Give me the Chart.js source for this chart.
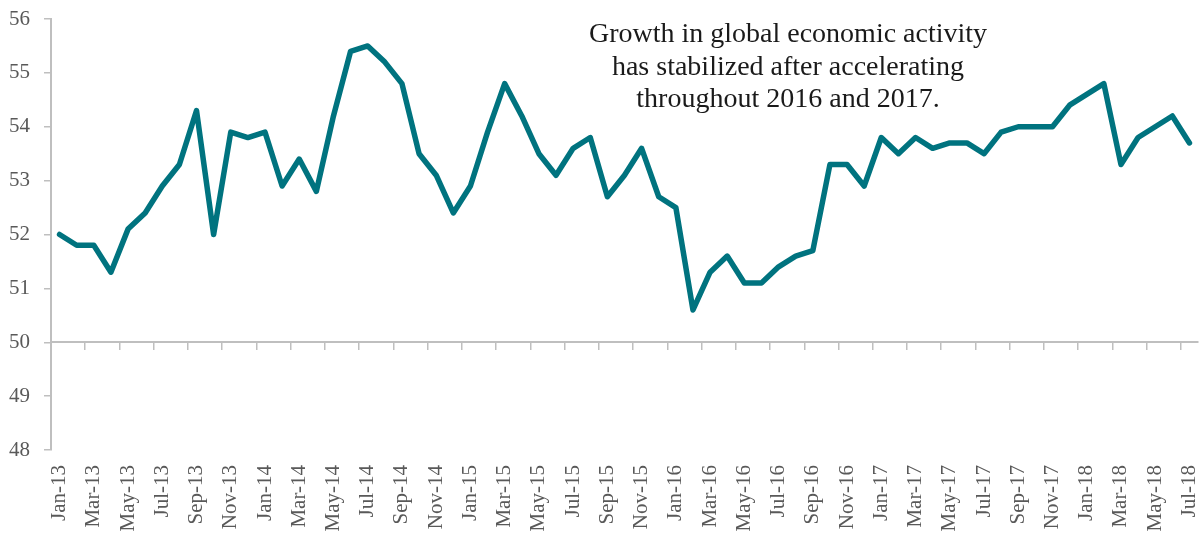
<!DOCTYPE html>
<html>
<head>
<meta charset="utf-8">
<script src="https://cdn.jsdelivr.net/npm/chart.js@4/dist/chart.umd.min.js"></script>
<style>
  html, body { margin: 0; padding: 0; background: #ffffff; }
  #wrap { width: 1201px; height: 536px; position: relative; }
</style>
</head>
<body>
<div id="wrap"><canvas id="c"></canvas></div>
<script>
// ---- data ----
const months = [
  'Jan-13','Feb-13','Mar-13','Apr-13','May-13','Jun-13','Jul-13','Aug-13','Sep-13','Oct-13','Nov-13','Dec-13',
  'Jan-14','Feb-14','Mar-14','Apr-14','May-14','Jun-14','Jul-14','Aug-14','Sep-14','Oct-14','Nov-14','Dec-14',
  'Jan-15','Feb-15','Mar-15','Apr-15','May-15','Jun-15','Jul-15','Aug-15','Sep-15','Oct-15','Nov-15','Dec-15',
  'Jan-16','Feb-16','Mar-16','Apr-16','May-16','Jun-16','Jul-16','Aug-16','Sep-16','Oct-16','Nov-16','Dec-16',
  'Jan-17','Feb-17','Mar-17','Apr-17','May-17','Jun-17','Jul-17','Aug-17','Sep-17','Oct-17','Nov-17','Dec-17',
  'Jan-18','Feb-18','Mar-18','Apr-18','May-18','Jun-18','Jul-18'
];
const activity = [
  52.0, 51.8, 51.8, 51.3, 52.1, 52.4, 52.9, 53.3, 54.3, 52.0, 53.9, 53.8,
  53.9, 52.9, 53.4, 52.8, 54.2, 55.4, 55.5, 55.2, 54.8, 53.5, 53.1, 52.4,
  52.9, 53.9, 54.8, 54.2, 53.5, 53.1, 53.6, 53.8, 52.7, 53.1, 53.6, 52.7,
  52.5, 50.6, 51.3, 51.6, 51.1, 51.1, 51.4, 51.6, 51.7, 53.3, 53.3, 52.9,
  53.8, 53.5, 53.8, 53.6, 53.7, 53.7, 53.5, 53.9, 54.0, 54.0, 54.0, 54.4,
  54.6, 54.8, 53.3, 53.8, 54.0, 54.2, 53.7
];
const yMin = 48;
const yMax = 56;
const yStep = 1;
const baselineValue = 50;
const annotationLines = [
  'Growth in global economic activity',
  'has stabilized after accelerating',
  'throughout 2016 and 2017.'
];

// ---- styles ----
const AXIS_GREY = '#bfbfbf';
const LABEL_GREY = '#595959';
const LINE_TEAL = '#00737f';
const SERIF = '"Liberation Serif", "DejaVu Serif", serif';

const annotationPlugin = {
  id: 'annotationText',
  afterDatasetsDraw(chart) {
    const ctx = chart.ctx;
    ctx.save();
    ctx.font = '28px ' + SERIF;
    ctx.fillStyle = '#1a1a1a';
    ctx.textAlign = 'center';
    ctx.textBaseline = 'alphabetic';
    const cx = 788;
    annotationLines.forEach((t, i) => ctx.fillText(t, cx, 42 + i * 32.5));
    ctx.restore();
  }
};

new Chart(document.getElementById('c'), {
  type: 'line',
  data: {
    labels: months,
    datasets: [{
      data: activity,
      borderColor: LINE_TEAL,
      borderWidth: 5.5,
      pointRadius: 0,
      pointHoverRadius: 0,
      tension: 0,
      fill: false,
      borderJoinStyle: 'round',
      borderCapStyle: 'round'
    }]
  },
  options: {
    responsive: true,
    maintainAspectRatio: false,
    animation: false,
    layout: { padding: { top: 19, right: 3, left: 0, bottom: 0 } },
    plugins: {
      legend: { display: false },
      tooltip: { enabled: false },
      title: { display: false }
    },
    scales: {
      x: {
        type: 'category',
        position: 'bottom',
        offset: true,
        grid: { display: false, drawTicks: false },
        border: { display: false },
        ticks: {
          autoSkip: false,
          minRotation: 90,
          maxRotation: 90,
          padding: 15,
          color: LABEL_GREY,
          font: { family: SERIF, size: 21 },
          callback: function(value, index) {
            return index % 2 === 0 ? this.getLabelForValue(value) : '';
          }
        },
        afterFit: (scale) => {
          scale.height = 86;
          scale.paddingLeft = 0;
          scale.paddingRight = 0;
        }
      },
      x2: {
        type: 'category',
        axis: 'x',
        position: { y: baselineValue },
        offset: true,
        grid: {
          display: true,
          drawOnChartArea: false,
          drawTicks: true,
          tickLength: 7,
          offset: true,
          lineWidth: 1.5,
          color: (c) => (c.index % 2 === 0 ? AXIS_GREY : 'rgba(0,0,0,0)'),
          tickColor: (c) => (c.index % 2 === 0 ? AXIS_GREY : 'rgba(0,0,0,0)')
        },
        border: { display: true, color: AXIS_GREY, width: 2 },
        ticks: { display: false, autoSkip: false },
        afterFit: (scale) => {
          scale.paddingLeft = 0;
          scale.paddingRight = 0;
        }
      },
      y: {
        min: yMin,
        max: yMax,
        grid: {
          display: true,
          drawOnChartArea: false,
          drawTicks: true,
          tickLength: 7,
          color: AXIS_GREY,
          lineWidth: 1.5
        },
        border: { display: true, color: AXIS_GREY, width: 2 },
        ticks: {
          stepSize: yStep,
          padding: 14,
          color: LABEL_GREY,
          font: { family: SERIF, size: 21 }
        },
        afterFit: (scale) => {
          scale.width = 51;
          scale.paddingTop = 0;
          scale.paddingBottom = 0;
        }
      }
    }
  },
  plugins: [annotationPlugin]
});
</script>
</body>
</html>
